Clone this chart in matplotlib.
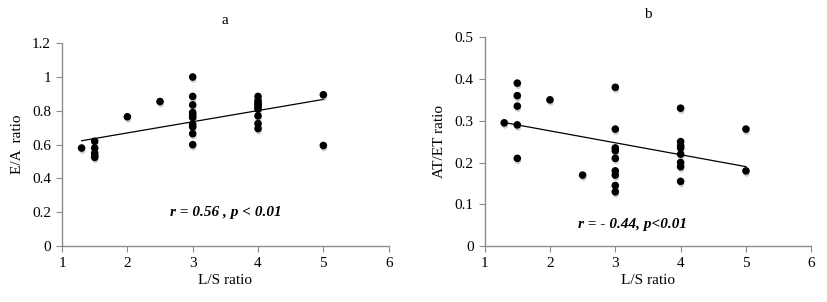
import numpy as np
import matplotlib
matplotlib.use("Agg")
import matplotlib.pyplot as plt
from matplotlib import patheffects as pe

plt.rcParams['font.family'] = ['Liberation Serif', 'DejaVu Serif']

# panel a: E/A ratio vs L/S ratio
ls_a = [1.3, 1.5, 1.5, 1.5, 1.5, 1.5, 2, 2.5,
        3, 3, 3, 3, 3, 3, 3, 3, 3, 3,
        4, 4, 4, 4, 4, 4, 4, 4, 4,
        5, 5]
ea = [0.58, 0.62, 0.58, 0.55, 0.535, 0.525, 0.765, 0.855,
      1.0, 0.885, 0.835, 0.79, 0.775, 0.76, 0.72, 0.705, 0.665, 0.6,
      0.885, 0.86, 0.845, 0.835, 0.82, 0.81, 0.77, 0.725, 0.695,
      0.895, 0.595]

# panel b: AT/ET ratio vs L/S ratio
ls_b = [1.3, 1.5, 1.5, 1.5, 1.5, 1.5, 2, 2.5,
        3, 3, 3, 3, 3, 3, 3, 3, 3,
        4, 4, 4, 4, 4, 4, 4, 4,
        5, 5]
atet = [0.295, 0.39, 0.36, 0.335, 0.29, 0.21, 0.35, 0.17,
        0.38, 0.28, 0.235, 0.228, 0.21, 0.18, 0.17, 0.145, 0.13,
        0.33, 0.25, 0.24, 0.235, 0.22, 0.2, 0.19, 0.155,
        0.28, 0.18]

panels = [
    dict(x=ls_a, y=ea, title="a", ylabel="E/A  ratio", ylim=(0, 1.2), step=0.2,
         note="r = 0.56 , p < 0.01", note_xy=(3.5, 0.2),
         rect=[0.075, 0.185, 0.395, 0.672]),
    dict(x=ls_b, y=atet, title="b", ylabel="AT/ET ratio", ylim=(0, 0.5), step=0.1,
         note="r = - 0.44, p<0.01", note_xy=(3.27, 0.052),
         rect=[0.586, 0.185, 0.395, 0.692]),
]

fig = plt.figure(figsize=(8.27, 3.02), dpi=100)

for p in panels:
    ax = fig.add_axes(p['rect'])
    x = np.array(p['x'])
    y = np.array(p['y'])
    shadow = [pe.SimplePatchShadow(offset=(0.5, -2), shadow_rgbFace='#777777', alpha=0.35), pe.Normal()]
    ax.scatter(x, y, s=20, color='black', zorder=3, path_effects=shadow)
    # linear trendline
    k, b = np.polyfit(x, y, 1)
    xs = np.array([x.min(), x.max()])
    ax.plot(xs, k * xs + b, color='black', lw=0.9, zorder=2)

    ax.set_xlim(1, 6)
    ax.set_ylim(*p['ylim'])
    ax.set_xticks(range(1, 7))
    ax.set_yticks(np.arange(0, p['ylim'][1] + 1e-9, p['step']))
    ax.yaxis.set_major_formatter(matplotlib.ticker.FuncFormatter(lambda v, _: f"{v:g}"))
    for s in ['top', 'right']:
        ax.spines[s].set_visible(False)
    for s in ['left', 'bottom']:
        ax.spines[s].set_color('#8c8c8c')
        ax.spines[s].set_linewidth(1.0)
    ax.tick_params(direction='out', length=4, color='#8c8c8c', labelsize=11, pad=4)
    ax.set_xlabel("L/S ratio", fontsize=11, labelpad=3)
    ax.set_ylabel(p['ylabel'], fontsize=11, labelpad=6)
    ax.set_title(p['title'], fontsize=11, pad=14)
    ax.text(p['note_xy'][0], p['note_xy'][1], p['note'], ha='center', va='center',
            fontsize=11, fontweight='bold', fontstyle='italic')

fig.savefig("out.png", dpi=100)
